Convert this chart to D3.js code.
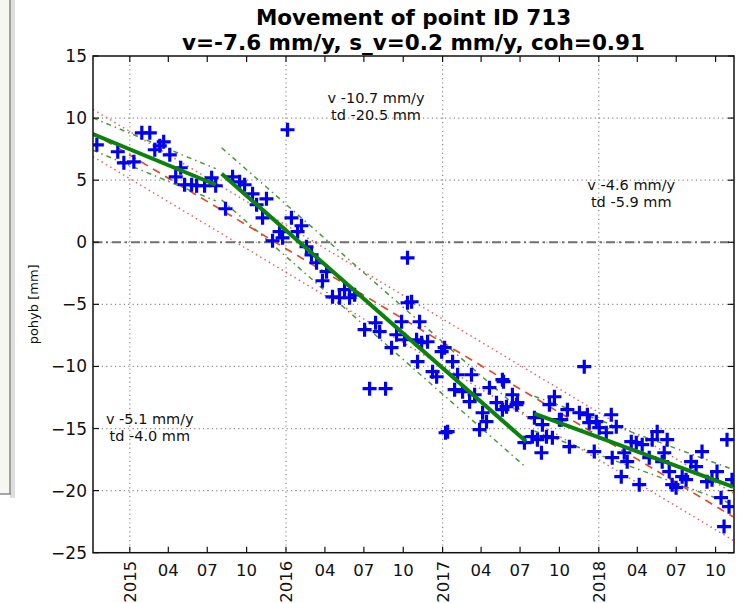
<!DOCTYPE html>
<html><head><meta charset="utf-8">
<script src="https://cdn.jsdelivr.net/npm/d3@7"></script>
<style>
body{margin:0;background:#fff;}
svg{display:block;font-family:"DejaVu Sans",sans-serif;}
</style></head>
<body>
<script>
// ---------- data ----------
const titleLines = ["Movement of point ID 713", "v=-7.6 mm/y, s_v=0.2 mm/y, coh=0.91"];
const yLabel = "pohyb [mm]";
const yTicks = [15, 10, 5, 0, -5, -10, -15, -20, -25];
const yearTicks = [2015, 2016, 2017, 2018];
const monthTickLabels = ["04", "07", "10"];
const xDomain = ["2014-10-07", "2018-11-13"];

// observation epochs (decimal year) and displacement (mm)
const obsTime = [2014.789,2014.923,2014.962,2015.026,2015.077,2015.128,2015.160,2015.192,2015.217,2015.256,
2015.294,2015.326,2015.351,2015.396,2015.428,2015.479,2015.524,2015.550,2015.613,2015.658,
2015.703,2015.735,2015.786,2015.812,2015.850,2015.875,2015.914,2015.959,2015.978,2016.010,
2016.035,2016.074,2016.099,2016.131,2016.163,2016.195,2016.233,2016.259,2016.297,2016.342,
2016.374,2016.406,2016.438,2016.502,2016.534,2016.572,2016.598,2016.636,2016.674,2016.706,
2016.738,2016.757,2016.776,2016.776,2016.802,2016.834,2016.840,2016.853,2016.866,2016.904,
2016.936,2016.962,2016.994,2017.013,2017.019,2017.032,2017.064,2017.077,2017.096,2017.128,
2017.173,2017.185,2017.205,2017.237,2017.256,2017.281,2017.300,2017.345,2017.383,2017.383,
2017.390,2017.409,2017.447,2017.473,2017.479,2017.524,2017.575,2017.588,2017.607,2017.633,
2017.639,2017.665,2017.684,2017.703,2017.716,2017.748,2017.760,2017.799,2017.812,2017.876,
2017.907,2017.927,2017.939,2017.971,2017.984,2018.003,2018.048,2018.080,2018.086,2018.112,
2018.144,2018.163,2018.182,2018.208,2018.240,2018.259,2018.278,2018.323,2018.342,2018.374,
2018.406,2018.419,2018.438,2018.451,2018.470,2018.495,2018.534,2018.559,2018.591,2018.623,
2018.661,2018.693,2018.725,2018.757,2018.783,2018.802,2018.821,2018.834,2018.853];
const obsValue = [7.85,7.29,6.40,6.48,8.81,8.81,7.45,7.77,8.09,7.04,
5.27,6.00,4.63,4.63,4.55,4.55,5.19,4.55,2.70,5.27,
4.87,4.63,3.90,3.02,1.97,3.50,0.12,0.85,0.36,9.06,
1.97,0.85,1.33,-0.36,-1.01,-1.65,-3.10,-2.37,-4.39,-4.47,
-3.82,-4.47,-4.23,-7.04,-11.79,-6.48,-7.20,-11.79,-8.49,-7.45,
-6.40,-7.85,-1.25,-4.87,-4.79,-7.85,-9.62,-6.40,-8.09,-8.01,
-10.42,-10.83,-8.81,-8.49,-15.34,-15.25,-9.62,-11.87,-10.67,-12.03,
-12.84,-10.67,-12.28,-15.09,-13.73,-14.45,-11.71,-12.92,-11.07,-13.48,
-11.23,-13.24,-12.28,-13.08,-12.92,-16.14,-15.66,-14.13,-15.90,-16.95,
-14.69,-15.66,-13.08,-15.74,-12.44,-14.29,-14.29,-13.48,-16.46,-13.73,
-10.02,-13.89,-14.53,-16.86,-14.45,-14.93,-15.34,-13.89,-17.35,-14.85,
-18.88,-16.95,-17.67,-16.06,-16.14,-19.52,-16.30,-17.35,-15.90,-15.25,
-17.67,-16.95,-15.90,-18.47,-19.52,-19.76,-18.88,-19.12,-17.67,-18.07,
-16.86,-19.28,-19.12,-18.47,-20.57,-22.90,-15.90,-21.29,-19.12];

// overall linear fit and its band (start/end epochs and values)
const fitTime = [2014.764, 2018.86];
const fitValue = [8.8, -22.1];
const fitUpper = [10.7, -20.2];
const fitLower = [6.9, -24.0];

// piecewise fits: [t0, t1], [v0, v1], with band half-width
const segTime = [[2014.764, 2015.550], [2015.588, 2017.535], [2017.588, 2018.86]];
const segValue = [[8.71, 4.63], [5.51, -16.04], [-13.8, -19.7]];
const segBand = [1.3, 2.1, 1.4];

// annotations for each segment
const segText = [["v -5.1 mm/y", "td -4.0 mm"], ["v -10.7 mm/y", "td -20.5 mm"], ["v -4.6 mm/y", "td -5.9 mm"]];
const segTextAt = [[2015.128, -14.65], [2016.575, 11.2], [2018.208, 4.2]];

// ---------- helpers ----------
function decToDate(t){
  const y = Math.floor(t);
  const a = Date.UTC(y,0,1), b = Date.UTC(y+1,0,1);
  return new Date(a + (t - y) * (b - a));
}

// ---------- layout ----------
const W = 741, H = 603;
const m = {left: 93, right: 734, top: 56, bottom: 552.7};

const svg = d3.select("body").append("svg").attr("width", W).attr("height", H);

// background window artifact on the left
svg.append("rect").attr("x",0).attr("y",0).attr("width",10).attr("height",494).attr("fill","#f7f7f2");
svg.append("rect").attr("x",10).attr("y",0).attr("width",5).attr("height",498).attr("fill","#c8c8c8").attr("opacity",0.6);
svg.append("line").attr("x1",10).attr("x2",10).attr("y1",0).attr("y2",494).attr("stroke","#888").attr("stroke-width",1.5);
svg.append("line").attr("x1",0).attr("x2",11).attr("y1",494).attr("y2",494).attr("stroke","#888").attr("stroke-width",1.5);

const x = d3.scaleUtc().domain(xDomain.map(s => new Date(s + "T00:00:00Z"))).range([m.left, m.right]);
const y = d3.scaleLinear().domain([-25, 15]).range([m.bottom, m.top]);

svg.append("defs").append("clipPath").attr("id","clip")
  .append("rect").attr("x",m.left).attr("y",m.top).attr("width",m.right-m.left).attr("height",m.bottom-m.top);

// grid
const grid = svg.append("g").attr("stroke","#8a8a8a").attr("stroke-width",1.2).attr("stroke-dasharray","1.2,3.2");
yTicks.forEach(v => {
  if (v === 15 || v === -25) return;
  grid.append("line").attr("x1",m.left).attr("x2",m.right).attr("y1",y(v)).attr("y2",y(v));
});
yearTicks.forEach(yr => {
  const xx = x(new Date(Date.UTC(yr,0,1)));
  grid.append("line").attr("x1",xx).attr("x2",xx).attr("y1",m.top).attr("y2",m.bottom);
});

// zero line
svg.append("line").attr("x1",m.left).attr("x2",m.right).attr("y1",y(0)).attr("y2",y(0))
  .attr("stroke","#707070").attr("stroke-width",2).attr("stroke-dasharray","9,4,2,4");

const plot = svg.append("g").attr("clip-path","url(#clip)");
const line = d3.line().x(d => x(decToDate(d[0]))).y(d => y(d[1]));

// overall fit and band
plot.append("path").attr("d", line(fitTime.map((t,i)=>[t,fitUpper[i]])))
  .attr("fill","none").attr("stroke","#f06060").attr("stroke-width",1.5).attr("stroke-dasharray","1.5,3.5");
plot.append("path").attr("d", line(fitTime.map((t,i)=>[t,fitLower[i]])))
  .attr("fill","none").attr("stroke","#f06060").attr("stroke-width",1.5).attr("stroke-dasharray","1.5,3.5");

// segment bands
segTime.forEach((ts,i) => {
  [1,-1].forEach(s => {
    plot.append("path").attr("d", line(ts.map((t,k)=>[t, segValue[i][k] + s*segBand[i]])))
      .attr("fill","none").attr("stroke","#4a9a3a").attr("stroke-width",1.5).attr("stroke-dasharray","5,4,1.5,4");
  });
});

plot.append("path").attr("d", line(fitTime.map((t,i)=>[t,fitValue[i]])))
  .attr("fill","none").attr("stroke","#e84a2e").attr("stroke-width",1.7).attr("stroke-dasharray","8,6");

// observations
const pts = obsTime.map((t,i)=>[t, obsValue[i]]);
const mk = 7;
plot.append("g").attr("stroke","#0000ee").attr("stroke-width",3.2)
  .selectAll("path").data(pts).join("path")
  .attr("d", d => {
    const px = x(decToDate(d[0])), py = y(d[1]);
    return `M${px-mk},${py}H${px+mk}M${px},${py-mk}V${py+mk}`;
  });

// segment fit lines
segTime.forEach((ts,i) => {
  plot.append("path").attr("d", line(ts.map((t,k)=>[t, segValue[i][k]])))
    .attr("fill","none").attr("stroke","#0b820b").attr("stroke-width",4);
});

// annotations
segText.forEach((lines,i) => {
  const t = svg.append("text").attr("font-size",14.5).attr("fill","#111").attr("text-anchor","middle")
    .attr("x", x(decToDate(segTextAt[i][0]))).attr("y", y(segTextAt[i][1]));
  lines.forEach((s,k) => t.append("tspan").attr("x", x(decToDate(segTextAt[i][0]))).attr("dy", k ? 17 : 0).text(s));
});

// frame
svg.append("rect").attr("x",m.left).attr("y",m.top).attr("width",m.right-m.left).attr("height",m.bottom-m.top)
  .attr("fill","none").attr("stroke","#111").attr("stroke-width",1.5);

// ticks
const tk = svg.append("g").attr("stroke","#111").attr("stroke-width",1.2);
const allX = [];
yearTicks.forEach(yr => {
  allX.push({d:new Date(Date.UTC(yr,0,1)), lab:String(yr), year:true});
  [3,6,9].forEach((mo,j) => allX.push({d:new Date(Date.UTC(yr,mo,1)), lab:monthTickLabels[j], year:false}));
});
allX.push({d:new Date(Date.UTC(2014,9,1)), lab:"", year:false});
const xt = allX.filter(o => x(o.d) >= m.left - 0.5 && x(o.d) <= m.right + 0.5);
xt.forEach(o => {
  const xx = x(o.d);
  tk.append("line").attr("x1",xx).attr("x2",xx).attr("y1",m.bottom).attr("y2",m.bottom-6);
  tk.append("line").attr("x1",xx).attr("x2",xx).attr("y1",m.top).attr("y2",m.top+6);
});
yTicks.forEach(v => {
  tk.append("line").attr("x1",m.left).attr("x2",m.left+6).attr("y1",y(v)).attr("y2",y(v));
  tk.append("line").attr("x1",m.right).attr("x2",m.right-6).attr("y1",y(v)).attr("y2",y(v));
});

// tick labels
yTicks.forEach(v => {
  svg.append("text").attr("x", m.left - 6).attr("y", y(v) + 6).attr("text-anchor","end")
    .attr("font-size",17).attr("fill","#111").text(v < 0 ? "\u2212" + Math.abs(v) : String(v));
});
xt.forEach(o => {
  const xx = x(o.d);
  if (o.year) {
    svg.append("text").attr("transform",`translate(${xx+6},${m.bottom+8}) rotate(-90)`)
      .attr("text-anchor","end").attr("font-size",16.5).attr("fill","#111").text(o.lab);
  } else if (o.lab) {
    svg.append("text").attr("x",xx).attr("y",m.bottom+23).attr("text-anchor","middle")
      .attr("font-size",16.5).attr("fill","#111").text(o.lab);
  }
});

// y label
svg.append("text").attr("transform",`translate(38,${(m.top+m.bottom)/2}) rotate(-90)`)
  .attr("text-anchor","middle").attr("font-size",13).attr("fill","#111").text(yLabel);

// title
titleLines.forEach((s,i) => {
  svg.append("text").attr("x",(m.left+m.right)/2).attr("y", 25 + i*25).attr("text-anchor","middle")
    .attr("font-size",21.5).attr("font-weight","bold").attr("fill","#000").text(s);
});
</script>
</body></html>
